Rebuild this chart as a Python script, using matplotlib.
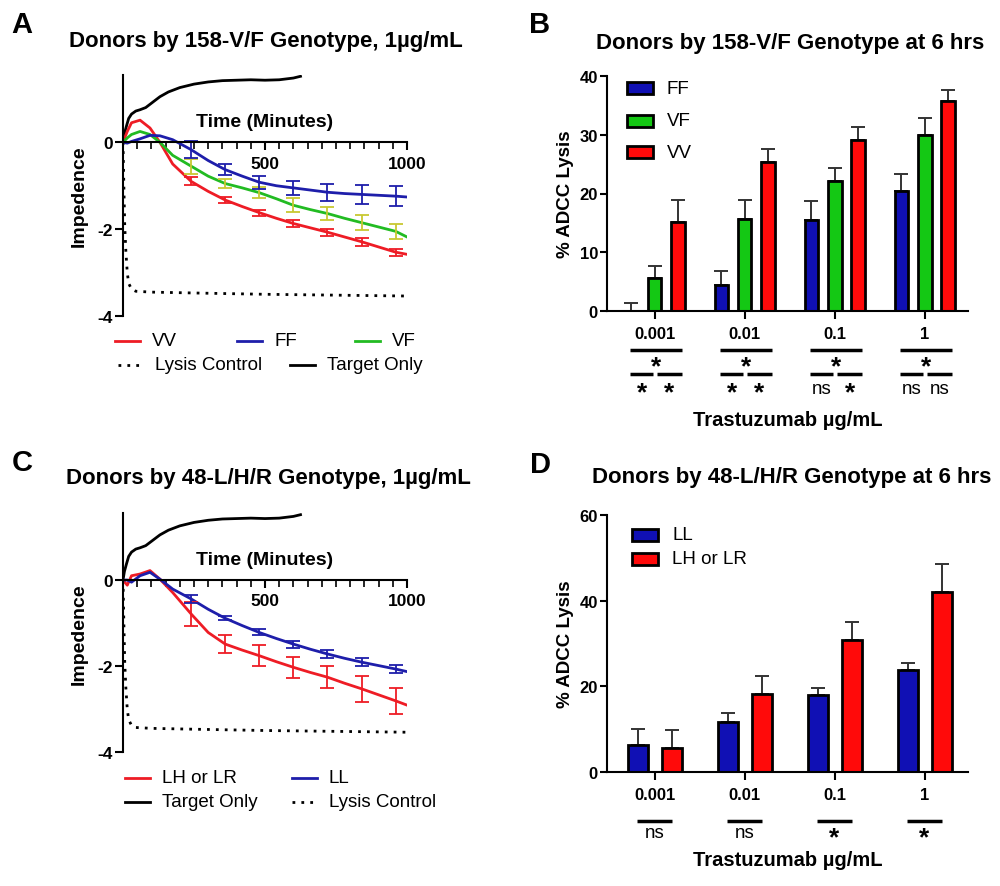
import numpy as np
import matplotlib
matplotlib.use("Agg")
import matplotlib.pyplot as plt
from matplotlib.lines import Line2D
from matplotlib.patches import Rectangle
from matplotlib.ticker import FixedLocator, MultipleLocator

plt.rcParams['font.family'] = ['Liberation Sans', 'DejaVu Sans']
plt.rcParams['axes.unicode_minus'] = False

# ---------------- data: panel A (158-V/F, impedance over time) ----------------
t_curve = [0, 15, 30, 60, 95, 130, 175, 240, 300, 360, 420, 480, 540, 600,
           660, 720, 780, 840, 900, 960, 1000]
vv = [0, 0.25, 0.45, 0.51, 0.33, 0.0, -0.50, -0.90, -1.13, -1.33, -1.48, -1.62,
      -1.75, -1.87, -1.97, -2.07, -2.18, -2.29, -2.41, -2.53, -2.58]
vf = [0, 0.10, 0.18, 0.25, 0.18, 0.0, -0.30, -0.55, -0.78, -0.95, -1.05, -1.16,
      -1.30, -1.45, -1.55, -1.64, -1.75, -1.85, -1.95, -2.05, -2.18]
ff = [0, -0.02, 0.02, 0.08, 0.16, 0.15, 0.06, -0.17, -0.42, -0.63, -0.78, -0.92,
      -1.00, -1.05, -1.10, -1.15, -1.18, -1.20, -1.22, -1.24, -1.26]
t_err = [240, 360, 480, 600, 720, 840, 960]
vv_err = [0.09, 0.07, 0.07, 0.08, 0.08, 0.09, 0.08]
vf_err = [0.17, 0.10, 0.12, 0.16, 0.15, 0.17, 0.17]
ff_err = [0.20, 0.13, 0.15, 0.16, 0.20, 0.22, 0.23]

# ---------------- data: panel C (48-L/H/R) ----------------
lh = [0, -0.12, 0.10, 0.14, 0.22, 0.02, -0.29, -0.79, -1.22, -1.49, -1.63, -1.76,
      -1.90, -2.03, -2.15, -2.26, -2.40, -2.53, -2.67, -2.81, -2.91]
ll = [0, 0.0, -0.05, 0.10, 0.18, 0.02, -0.21, -0.44, -0.68, -0.89, -1.06, -1.22,
      -1.36, -1.49, -1.61, -1.72, -1.82, -1.91, -1.99, -2.07, -2.13]
lh_err = [0.27, 0.20, 0.25, 0.25, 0.25, 0.30, 0.30]
ll_err = [0.10, 0.05, 0.07, 0.08, 0.10, 0.10, 0.10]

# controls (shared)
t_lysis = [0, 3, 6, 10, 15, 20, 30, 45, 100, 250, 500, 750, 1000]
lysis = [0, -1.0, -1.9, -2.5, -3.0, -3.25, -3.38, -3.43, -3.45, -3.47, -3.50,
         -3.52, -3.54]
t_target = [0, 5, 12, 20, 30, 45, 60, 80, 100, 130, 160, 200, 250, 300, 350,
            400, 450, 500, 550, 600, 625]
target = [0, 0.20, 0.37, 0.55, 0.65, 0.72, 0.75, 0.80, 0.90, 1.05, 1.16, 1.26,
          1.34, 1.39, 1.42, 1.43, 1.44, 1.43, 1.44, 1.48, 1.52]

# ---------------- data: bar panels ----------------
doses = ['0.001', '0.01', '0.1', '1']
b_ff = [0.0, 4.4, 15.5, 20.4]
b_ff_err = [1.4, 2.4, 3.3, 3.0]
b_vf = [5.7, 15.6, 22.1, 29.9]
b_vf_err = [2.0, 3.3, 2.3, 2.9]
b_vv = [15.2, 25.4, 29.1, 35.8]
b_vv_err = [3.7, 2.2, 2.3, 1.9]
sig_b_top = ['*', '*', '*', '*']
sig_b_left = ['*', '*', 'ns', 'ns']
sig_b_right = ['*', '*', '*', 'ns']

d_ll = [6.4, 11.7, 17.9, 23.9]
d_ll_err = [3.7, 2.0, 1.8, 1.6]
d_lh = [5.6, 18.1, 30.8, 42.0]
d_lh_err = [4.3, 4.3, 4.2, 6.5]
sig_d = ['ns', 'ns', '*', '*']

RED = '#EE1C25'
BLUE = '#1E1EAA'
GREEN = '#22BB22'
GREEN_ERR = '#C8C832'
BAR_BLUE = '#1010B4'
BAR_GREEN = '#14C814'
BAR_RED = '#FF0A0A'

fig = plt.figure(figsize=(10, 8.87), dpi=100)


def fx(x):
    return x / 1000


def fy(y):
    return 1 - y / 887


def line_key(x, y, label, **style):
    fig.add_artist(Line2D([fx(x), fx(x + 25)], [fy(y), fy(y)],
                          transform=fig.transFigure, **style))
    fig.text(fx(x + 37), fy(y), label, va='center', fontsize=13.5)


def patch_key(x, y, label, color):
    fig.add_artist(Rectangle((fx(x), fy(y + 6)), fx(26), 12 / 887,
                             transform=fig.transFigure, facecolor=color,
                             edgecolor='black', linewidth=2))
    fig.text(fx(x + 40), fy(y), label, va='center', fontsize=13.5)


def time_axis(ax):
    ax.set_xlim(0, 1000)
    ax.set_ylim(-4, 1.55)
    for s in ['top', 'right']:
        ax.spines[s].set_visible(False)
    ax.spines['bottom'].set_position(('data', 0))
    for s in ['left', 'bottom']:
        ax.spines[s].set_linewidth(1.5)
    ax.xaxis.set_major_locator(FixedLocator([500, 1000]))
    ax.xaxis.set_minor_locator(MultipleLocator(50))
    ax.set_yticks([0, -2, -4])
    ax.tick_params(width=1.5, length=6, labelsize=12.5)
    ax.tick_params(axis='y', pad=1.5)
    ax.tick_params(which='minor', width=1.2, length=5)
    for lab in ax.get_xticklabels() + ax.get_yticklabels():
        lab.set_fontweight('bold')
    ax.set_ylabel('Impedence', fontsize=14, fontweight='bold', labelpad=7)
    ax.text(500, 0.47, 'Time (Minutes)', ha='center', va='center',
            fontsize=14, fontweight='bold')


def err_pts(series):
    return [series[t_curve.index(t)] for t in t_err]


# ---------------- Panel A ----------------
axA = fig.add_axes([0.123, fy(317), 0.284, 241 / 887])
axA.plot(t_lysis, lysis, color='black', ls=(0, (1, 2.2)), lw=2)
axA.plot(t_target, target, color='black', lw=2)
axA.plot(t_curve, vv, color=RED, lw=2)
axA.plot(t_curve, vf, color=GREEN, lw=2)
axA.plot(t_curve, ff, color=BLUE, lw=2)
axA.errorbar(t_err, err_pts(vv), yerr=vv_err, fmt='none', ecolor=RED,
             elinewidth=1.3, capsize=5, capthick=1.3)
axA.errorbar(t_err, err_pts(vf), yerr=vf_err, fmt='none', ecolor=GREEN_ERR,
             elinewidth=1.3, capsize=5, capthick=1.3)
axA.errorbar(t_err, err_pts(ff), yerr=ff_err, fmt='none', ecolor=BLUE,
             elinewidth=1.3, capsize=5, capthick=1.3)
time_axis(axA)

line_key(115, 342, 'VV', color=RED, lw=2)
line_key(237, 342, 'FF', color=BLUE, lw=2)
line_key(355, 342, 'VF', color=GREEN, lw=2)
line_key(118, 366, 'Lysis Control', color='black', lw=2, ls=(0, (1, 2.2)))
line_key(290, 366, 'Target Only', color='black', lw=2)

# ---------------- Panel C ----------------
axC = fig.add_axes([0.123, fy(753), 0.284, 238.6 / 887])
axC.plot(t_lysis, lysis, color='black', ls=(0, (1, 2.2)), lw=2)
axC.plot(t_target, target, color='black', lw=2)
axC.plot(t_curve, lh, color=RED, lw=2)
axC.plot(t_curve, ll, color=BLUE, lw=2)
axC.errorbar(t_err, err_pts(lh), yerr=lh_err, fmt='none', ecolor=RED,
             elinewidth=1.3, capsize=5, capthick=1.3)
axC.errorbar(t_err, err_pts(ll), yerr=ll_err, fmt='none', ecolor=BLUE,
             elinewidth=1.3, capsize=5, capthick=1.3)
time_axis(axC)

line_key(125, 779, 'LH or LR', color=RED, lw=2)
line_key(292, 779, 'LL', color=BLUE, lw=2)
line_key(125, 803, 'Target Only', color='black', lw=2)
line_key(292, 803, 'Lysis Control', color='black', lw=2, ls=(0, (1, 2.2)))


def bar_axis(ax, ymax, yticks):
    ax.set_xlim(-0.53, 3.48)
    ax.set_ylim(0, ymax)
    for s in ['top', 'right']:
        ax.spines[s].set_visible(False)
    for s in ['left', 'bottom']:
        ax.spines[s].set_linewidth(1.5)
    ax.set_yticks(yticks)
    ax.set_xticks(range(len(doses)))
    ax.set_xticklabels(doses)
    ax.tick_params(width=1.5, length=6, labelsize=12, pad=5)
    ax.tick_params(axis='y', length=5, pad=1.5)
    for lab in ax.get_xticklabels() + ax.get_yticklabels():
        lab.set_fontweight('bold')
    ax.set_ylabel('% ADCC Lysis', fontsize=13.5, fontweight='bold', labelpad=4)


def sig(ax, x0, x1, y, label, ly):
    tr = ax.get_xaxis_transform()
    ax.plot([x0, x1], [y, y], color='black', lw=2.5, transform=tr,
            clip_on=False, solid_capstyle='butt')
    if label == '*':
        ax.text((x0 + x1) / 2, ly - 0.018, '*', ha='center', va='center',
                fontsize=19, fontweight='bold', transform=tr)
    else:
        ax.text((x0 + x1) / 2, ly, label, ha='center', va='center',
                fontsize=13.5, transform=tr)


# ---------------- Panel B ----------------
axB = fig.add_axes([0.607, fy(312), 0.361, 235 / 887])
x = np.arange(len(doses))
for off, vals, errs, col in [(-0.26, b_ff, b_ff_err, BAR_BLUE),
                             (0.0, b_vf, b_vf_err, BAR_GREEN),
                             (0.26, b_vv, b_vv_err, BAR_RED)]:
    axB.errorbar(x + off, vals, yerr=[np.zeros(len(vals)), errs], fmt='none',
                 ecolor='#333333', elinewidth=1.4, capsize=5, capthick=1.4,
                 zorder=1)
    axB.bar(x + off, vals, 0.15, color=col, edgecolor='black', linewidth=2,
            zorder=2)
bar_axis(axB, 40, [0, 10, 20, 30, 40])
for i in range(len(doses)):
    sig(axB, i - 0.27, i + 0.30, -0.166, sig_b_top[i], -0.217)
    sig(axB, i - 0.27, i - 0.02, -0.268, sig_b_left[i], -0.33)
    sig(axB, i + 0.03, i + 0.30, -0.268, sig_b_right[i], -0.33)
axB.text(0.5, -0.46, 'Trastuzumab µg/mL', transform=axB.transAxes,
         ha='center', va='center', fontsize=14.5, fontweight='bold')

patch_key(627, 89, 'FF', BAR_BLUE)
patch_key(627, 122, 'VF', BAR_GREEN)
patch_key(627, 153, 'VV', BAR_RED)

# ---------------- Panel D ----------------
axD = fig.add_axes([0.607, fy(773), 0.361, 257 / 887])
for off, vals, errs, col in [(-0.19, d_ll, d_ll_err, BAR_BLUE),
                             (0.19, d_lh, d_lh_err, BAR_RED)]:
    axD.errorbar(x + off, vals, yerr=[np.zeros(len(vals)), errs], fmt='none',
                 ecolor='#333333', elinewidth=1.4, capsize=5, capthick=1.4,
                 zorder=1)
    axD.bar(x + off, vals, 0.22, color=col, edgecolor='black', linewidth=2,
            zorder=2)
bar_axis(axD, 60, [0, 20, 40, 60])
for i in range(len(doses)):
    sig(axD, i - 0.2, i + 0.19, -0.19, sig_d[i], -0.235)
axD.text(0.5, -0.34, 'Trastuzumab µg/mL', transform=axD.transAxes,
         ha='center', va='center', fontsize=14.5, fontweight='bold')

patch_key(632, 536, 'LL', BAR_BLUE)
patch_key(632, 560, 'LH or LR', BAR_RED)

# ---------------- titles and panel letters ----------------
title_kw = dict(ha='center', va='center', fontsize=16, fontweight='bold')
fig.text(fx(266), fy(41), 'Donors by 158-V/F Genotype, 1µg/mL', **title_kw)
fig.text(fx(790), fy(43), 'Donors by 158-V/F Genotype at 6 hrs', **title_kw)
fig.text(fx(268), fy(479), 'Donors by 48-L/H/R Genotype, 1µg/mL', **title_kw)
fig.text(fx(792), fy(478), 'Donors by 48-L/H/R Genotype at 6 hrs', **title_kw)
letter_kw = dict(ha='center', va='center', fontsize=21, fontweight='bold')
fig.text(fx(22), fy(25), 'A', **letter_kw)
fig.text(fx(540), fy(25), 'B', **letter_kw)
fig.text(fx(22), fy(463), 'C', **letter_kw)
fig.text(fx(540), fy(465), 'D', **letter_kw)

fig.savefig('out.png', dpi=100)
